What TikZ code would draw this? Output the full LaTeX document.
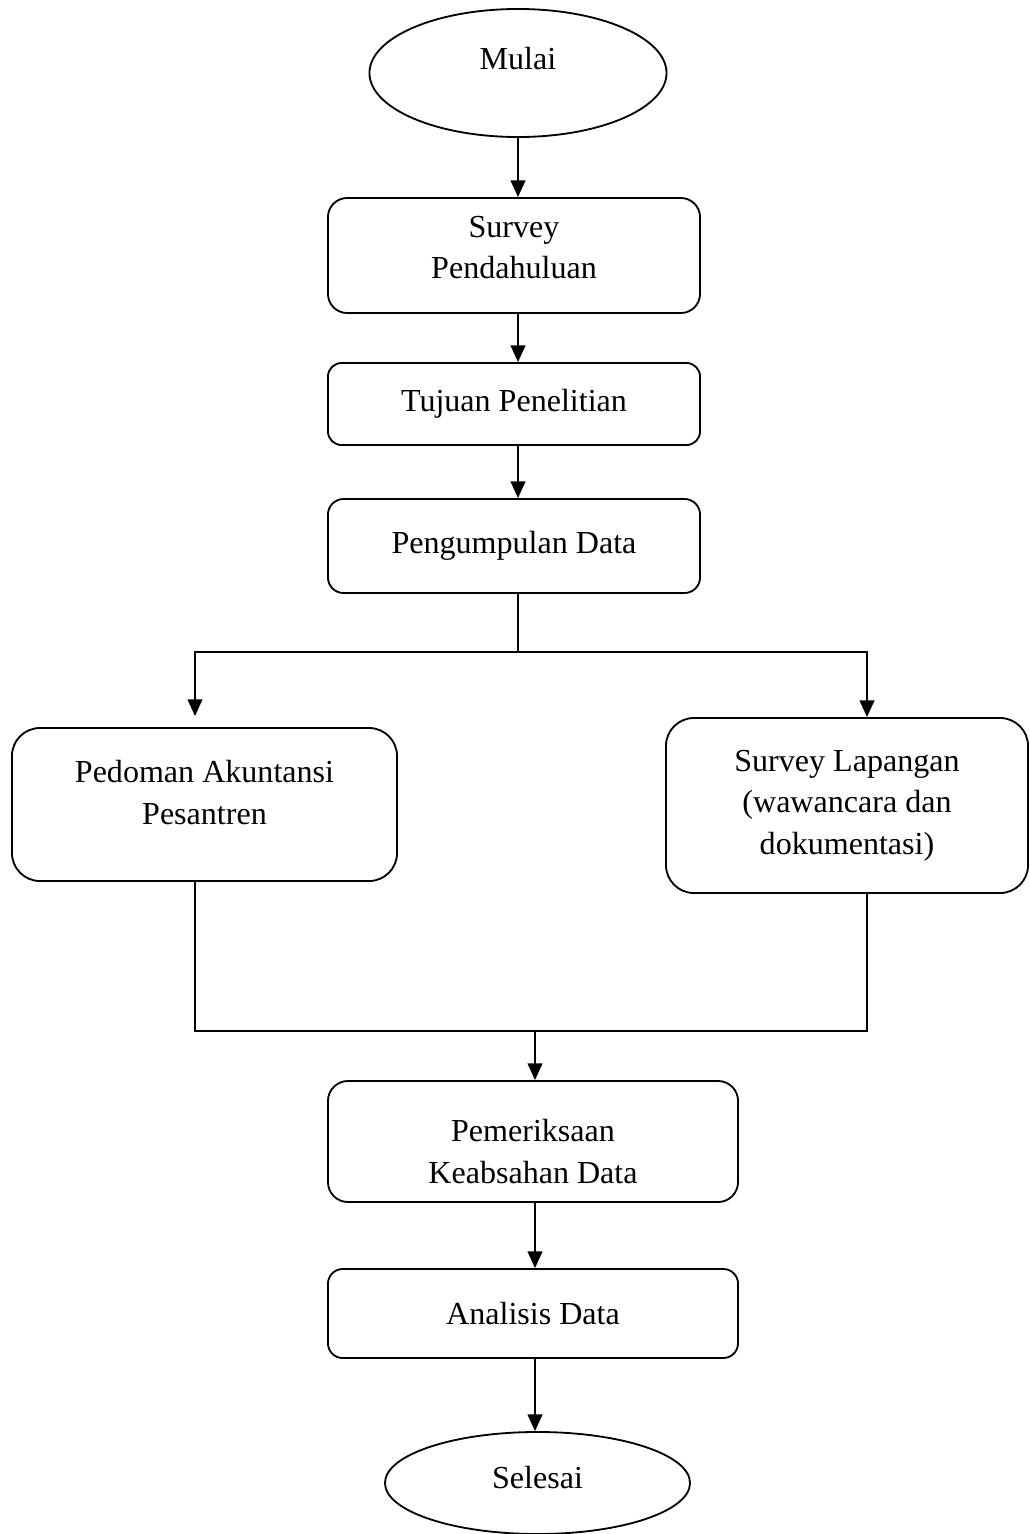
\documentclass[tikz,border=0pt]{standalone}
\usepackage{fontspec}
\setmainfont{Liberation Serif}
\usetikzlibrary{shapes.geometric, arrows.meta}

\begin{document}
\begin{tikzpicture}[x=0.025cm, y=-0.025cm,
  every node/.style = {font=\fontsize{22.8}{29.6}\selectfont, align=center},
  proses/.style = {draw, line width=1.3pt, rectangle, inner sep=0pt},
  terminal/.style = {draw, line width=1.3pt, ellipse, inner sep=0pt},
  arr/.style = {line width=1.4pt, -{Triangle[length=0.42cm, width=0.37cm]}},
  garis/.style = {line width=1.3pt},
  tipis/.style = {line width=0.9pt}]
\useasboundingbox (0,0) rectangle (1030,1534);

\node [terminal, minimum width=7.425cm, minimum height=3.2cm, text depth=0.75cm] (mulai) at (518,73) {Mulai};
\node [proses, rounded corners=0.48cm, minimum width=9.3cm, minimum height=2.875cm, text depth=0.4cm] (survey) at (514,255.5) {Survey\\Pendahuluan};
\node [proses, rounded corners=0.34cm, minimum width=9.3cm, minimum height=2.05cm] (tujuan) at (514,404) {Tujuan Penelitian};
\node [proses, rounded corners=0.39cm, minimum width=9.3cm, minimum height=2.35cm] (kumpul) at (514,546) {Pengumpulan Data};
\node [proses, rounded corners=0.7cm, minimum width=9.625cm, minimum height=3.825cm, text depth=0.6cm] (pedoman) at (204.5,804.5) {Pedoman Akuntansi\\Pesantren};
\node [proses, rounded corners=0.7cm, minimum width=9.05cm, minimum height=4.375cm] (lapangan) at (847,805.5) {Survey Lapangan\\(wawancara dan\\dokumentasi)};
\node [proses, rounded corners=0.5cm, minimum width=10.25cm, minimum height=3.025cm, text height=2.1cm] (periksa) at (533,1141.5) {Pemeriksaan\\Keabsahan Data};
\node [proses, rounded corners=0.37cm, minimum width=10.25cm, minimum height=2.225cm] (analisis) at (533,1313.5) {Analisis Data};
\node [terminal, minimum width=7.625cm, minimum height=2.55cm, text depth=0.275cm] (selesai) at (537.5,1483) {Selesai};

\coordinate (pisah) at (518,652);
\coordinate (kiri) at (195,652);
\coordinate (kanan) at (867,652);
\coordinate (gabung) at (535,1031);

\draw [arr] (mulai.south) -- (mulai.south |- survey.north);
\draw [arr] (survey.south -| mulai) -- (tujuan.north -| mulai);
\draw [arr] (tujuan.south -| mulai) -- (kumpul.north -| mulai);
\draw [garis] (kumpul.south -| mulai) -- (pisah);
\draw [arr, shorten >=0.275cm] (pisah) -| (pedoman.north -| kiri);
\draw [arr] (pisah) -| (lapangan.north -| kanan);
\draw [tipis] (pedoman.south -| kiri) |- (gabung) -| (lapangan.south -| kanan);
\draw [arr] (gabung) -- (gabung |- periksa.north);
\draw [arr] (periksa.south -| gabung) -- (analisis.north -| gabung);
\draw [arr] (analisis.south -| gabung) -- (selesai.north -| gabung);
\end{tikzpicture}
\end{document}
